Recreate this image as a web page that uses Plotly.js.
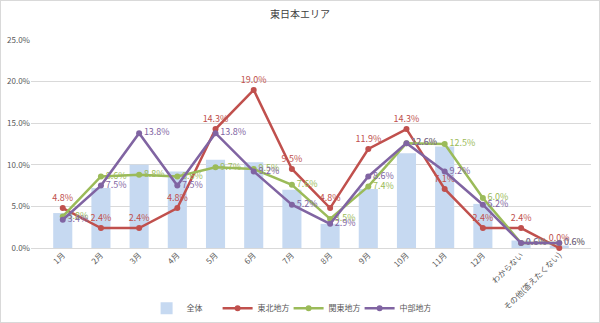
<!DOCTYPE html>
<html><head><meta charset="utf-8">
<script src="https://cdn.plot.ly/plotly-3.0.1.min.js"></script>
<style>
html,body{margin:0;padding:0;background:#fff;}
#wrap{position:relative;width:600px;height:323px;}
#chart{width:600px;height:323px;}
#frame{position:absolute;left:0;top:0;width:598px;height:321px;border:1px solid #d9d9d9;pointer-events:none;}
</style></head>
<body>
<div id="wrap"><div id="chart"></div><div id="frame"></div></div>
<script>
const categories = ['1月','2月','3月','4月','5月','6月','7月','8月','9月','10月','11月','12月','わからない','その他(答えたくない)'];
const zentai = [4.2, 7.2, 10.0, 9.2, 10.6, 10.3, 7.0, 2.9, 7.1, 11.4, 12.2, 5.3, 0.9, 0.3];
const tohoku = [4.8, 2.4, 2.4, 4.8, 14.3, 19.0, 9.5, 4.8, 11.9, 14.3, 7.1, 2.4, 2.4, 0.0];
const kanto  = [3.8, 8.6, 8.8, 8.6, 9.7, 9.5, 7.6, 3.5, 7.4, 12.6, 12.5, 6.0, 0.6, 0.6];
const chubu  = [3.4, 7.5, 13.8, 7.5, 13.8, 9.2, 5.2, 2.9, 8.6, 12.6, 9.2, 5.2, 0.6, 0.6];
const seriesNames = ['全体','東北地方','関東地方','中部地方'];

const fmt = a => a.map(v => v.toFixed(1) + '%');
const font = '"Noto Sans CJK JP", "Noto Sans", sans-serif';

const traces = [
  {type:'bar', name:seriesNames[0], x:categories, y:zentai, width:0.5,
   marker:{color:'#c6d9f1'}, hoverinfo:'skip'},
  {type:'scatter', mode:'lines+markers+text', name:seriesNames[1], x:categories, y:tohoku,
   line:{color:'#c0504d', width:2.5}, marker:{color:'#c0504d', size:6},
   text:fmt(tohoku), textposition:'top center', textfont:{color:'#c0504d', size:9, family:font}, cliponaxis:false},
  {type:'scatter', mode:'lines+markers+text', name:seriesNames[2], x:categories, y:kanto,
   line:{color:'#9bbb59', width:2.5}, marker:{color:'#9bbb59', size:6},
   text:fmt(kanto), textposition:'middle right', textfont:{color:'#9bbb59', size:9, family:font}, cliponaxis:false},
  {type:'scatter', mode:'lines+markers+text', name:seriesNames[3], x:categories, y:chubu,
   line:{color:'#8064a2', width:2.5}, marker:{color:'#8064a2', size:6},
   text:fmt(chubu), textposition:'middle right', textfont:{color:'#8064a2', size:9, family:font}, cliponaxis:false}
];

const layout = {
  width:600, height:323,
  margin:{l:31, r:9, t:40, b:75, autoexpand:false},
  paper_bgcolor:'#ffffff', plot_bgcolor:'#ffffff',
  font:{family:font, color:'#595959', size:9},
  title:{text:'東日本エリア', x:0.5, xanchor:'center', y:0.955, yanchor:'middle', font:{size:10, color:'#404040', family:font}},
  showlegend:true,
  legend:{orientation:'h', x:0.46, xanchor:'center', y:-0.29, yanchor:'middle', font:{size:8, color:'#595959'},
          itemwidth:30, traceorder:'normal', entrywidth:26, entrywidthmode:'pixels', tracegroupgap:0},
  xaxis:{type:'category', tickangle:-45, showgrid:false, showline:false, ticks:'', tickfont:{size:8, color:'#595959'}, automargin:false},
  yaxis:{range:[0,25], dtick:5, tickformat:'.1f', ticksuffix:'%', gridcolor:'#d9d9d9', gridwidth:1, zeroline:true, zerolinecolor:'#d9d9d9', showline:false, ticks:'', tickfont:{size:8, color:'#595959'}, automargin:false},
  bargap:0.5
};
Plotly.newPlot('chart', traces, layout, {displayModeBar:false, staticPlot:true});
</script>
</body></html>
